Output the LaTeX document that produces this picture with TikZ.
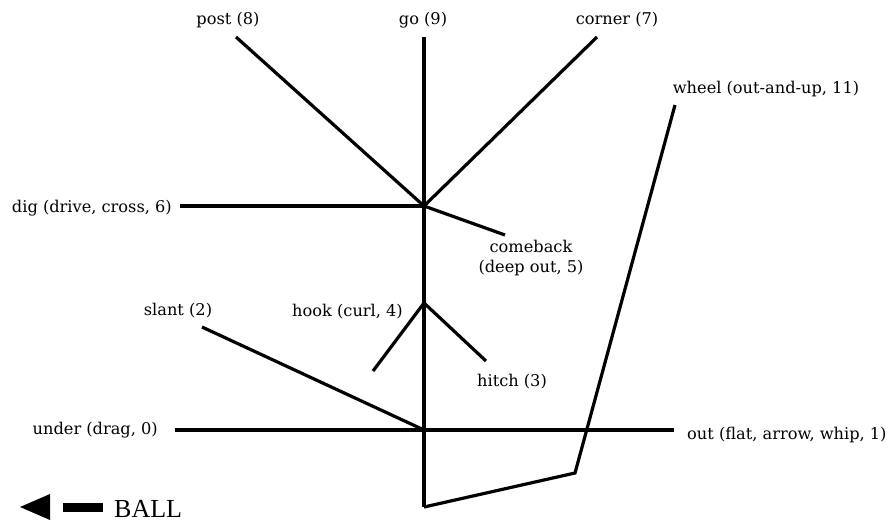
\documentclass[tikz,border=0pt]{standalone}
\usepackage{fontspec}
\setmainfont{DejaVu Serif}
\newfontfamily\ballfont{Liberation Serif}
\begin{document}
\begin{tikzpicture}[x=1pt,y=-1pt,
  lbl/.style={inner sep=0pt, font=\fontsize{16.2}{20}\selectfont},
  route/.style={line width=3.2pt, line join=miter}]
\useasboundingbox (0,0) rectangle (896,523);
% junctions and ends
\coordinate (J1) at (424,206);
\coordinate (J2) at (424,303);
\coordinate (J3) at (424,430);
\coordinate (B) at (424,507);
\coordinate (K) at (575,473);
\coordinate (postE) at (236,37);
\coordinate (goE) at (424,37);
\coordinate (cornerE) at (597,37);
\coordinate (digE) at (180,206);
\coordinate (cbE) at (505,235);
\coordinate (hookL) at (373,371);
\coordinate (hitchE) at (486,361);
\coordinate (slantE) at (202,327);
\coordinate (underE) at (175,430);
\coordinate (outE) at (674,430);
\coordinate (wheelE) at (675,105);
% routes
\draw[route] (goE) -- (B);
\draw[route] (postE) -- (J1);
\draw[route] (cornerE) -- (J1);
\draw[route] (digE) -- (J1);
\draw[route] (J1) -- (cbE);
\draw[route] (hookL) -- (J2) -- (hitchE);
\draw[route] (slantE) -- (J3);
\draw[route] (underE) -- (outE);
\draw[route] (B) -- (K) -- (wheelE);
% labels
\node[lbl] (post) at (228,20) {post (8)};
\node[lbl] (go) at (423,20) {go (9)};
\node[lbl] (corner) at (617,20) {corner (7)};
\node[lbl] (wheel) at (766,89) {wheel (out-and-up, 11)};
\node[lbl, anchor=east] (dig) at (172,208) {dig (drive, cross, 6)};
\node[lbl, align=center] (comeback) at (531,258) {comeback\\(deep out, 5)};
\node[lbl] (slant) at (178,311) {slant (2)};
\node[lbl, anchor=east] (hook) at (403,312) {hook (curl, 4)};
\node[lbl] (hitch) at (512,382) {hitch (3)};
\node[lbl, anchor=east] (under) at (158,430) {under (drag, 0)};
\node[lbl, anchor=west] (out) at (687,435) {out (flat, arrow, whip, 1)};
% ball direction
\fill (20,507) -- (50,494) -- (50,520) -- cycle;
\fill (63,503) rectangle (103,512);
\node[inner sep=0pt, anchor=west, font=\ballfont\fontsize{26}{30}\selectfont] (ball) at (114,509) {BALL};
\end{tikzpicture}
\end{document}
